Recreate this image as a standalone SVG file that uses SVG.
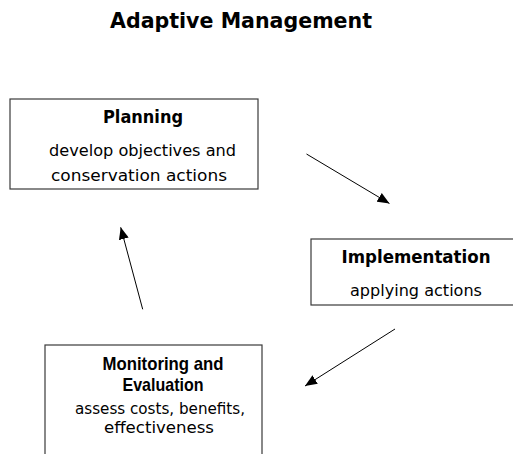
<svg xmlns="http://www.w3.org/2000/svg" width="513" height="454" viewBox="0 0 513 454">
  <style>
    .box { fill: #ffffff; stroke: #3a3a3a; stroke-width: 1.2; }
    .title { font-family: "DejaVu Sans", Verdana, sans-serif; font-weight: bold; font-size: 21px; fill: #000; }
    .hd { font-family: "DejaVu Sans", Verdana, sans-serif; font-weight: bold; font-size: 17px; fill: #000; text-anchor: middle; }
    .hd2 { font-family: "Liberation Sans", Arial, sans-serif; font-weight: bold; font-size: 18.5px; fill: #000; text-anchor: middle; }
    .tx { font-family: "DejaVu Sans", Verdana, sans-serif; font-size: 16px; fill: #000; text-anchor: middle; }
    .conn { stroke: #000; stroke-width: 1; fill: none; }
  </style>
  <defs>
    <marker id="arrow" viewBox="0 0 12 10" refX="12" refY="5" markerWidth="12" markerHeight="10" markerUnits="userSpaceOnUse" orient="auto">
      <path d="M0,0 L12,5 L0,10 Z" fill="#000"/>
    </marker>
  </defs>

  <text class="title" x="110" y="28" textLength="262" lengthAdjust="spacingAndGlyphs">Adaptive Management</text>

  <g id="planning">
    <rect class="box" x="10" y="99" width="248" height="90"/>
    <text class="hd" x="143" y="123" textLength="80" lengthAdjust="spacingAndGlyphs">Planning</text>
    <text class="tx" x="142.5" y="156" textLength="187" lengthAdjust="spacingAndGlyphs">develop objectives and</text>
    <text class="tx" x="139" y="181" textLength="176" lengthAdjust="spacingAndGlyphs">conservation actions</text>
  </g>

  <g id="implementation">
    <rect class="box" x="311" y="239" width="215" height="66"/>
    <text class="hd" x="416" y="263" textLength="149" lengthAdjust="spacingAndGlyphs">Implementation</text>
    <text class="tx" x="416" y="296" textLength="132" lengthAdjust="spacingAndGlyphs">applying actions</text>
  </g>

  <g id="monitoring">
    <rect class="box" x="45" y="345" width="217" height="120"/>
    <text class="hd2" x="163" y="370" textLength="121" lengthAdjust="spacingAndGlyphs">Monitoring and</text>
    <text class="hd2" x="163" y="391" textLength="81" lengthAdjust="spacingAndGlyphs">Evaluation</text>
    <text class="tx" x="160" y="414" textLength="170" lengthAdjust="spacingAndGlyphs">assess costs, benefits,</text>
    <text class="tx" x="159" y="433" textLength="110" lengthAdjust="spacingAndGlyphs">effectiveness</text>
  </g>

  <g id="connectors">
    <line class="conn" x1="306.5" y1="154" x2="389.5" y2="203.5" marker-end="url(#arrow)"/>
    <line class="conn" x1="395" y1="329" x2="305" y2="386" marker-end="url(#arrow)"/>
    <line class="conn" x1="142.7" y1="309.3" x2="120.7" y2="227.3" marker-end="url(#arrow)"/>
  </g>
</svg>
